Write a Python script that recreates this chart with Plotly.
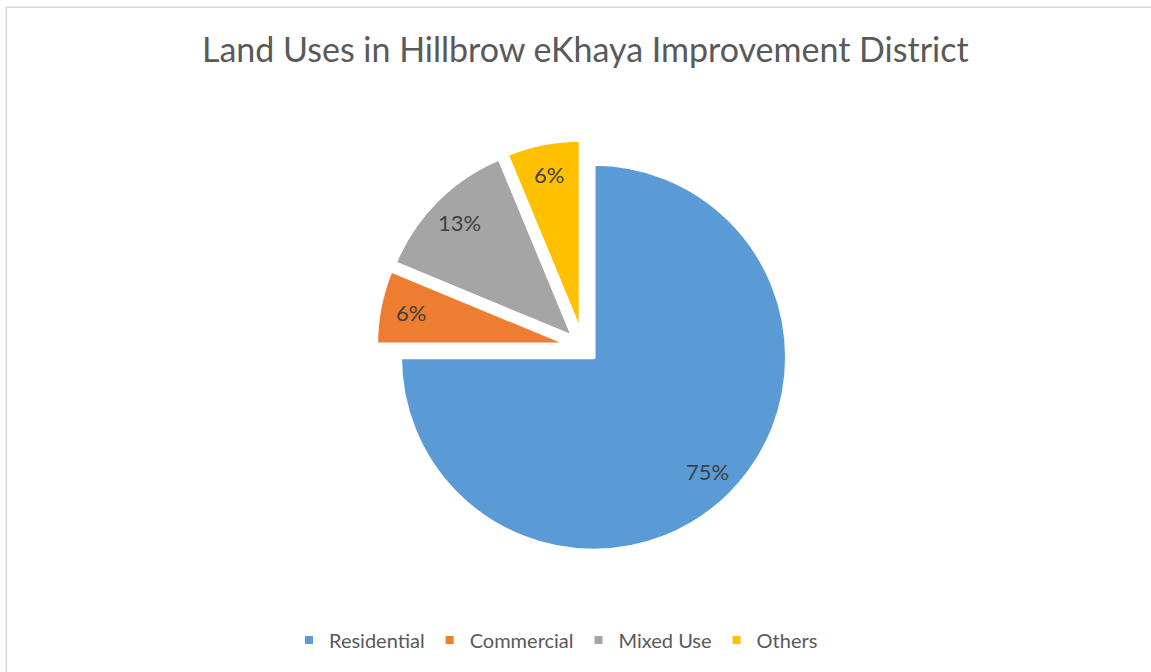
import math
import plotly.graph_objects as go

# Land-use shares (number of land parcels per category)
categories = ["Residential", "Commercial", "Mixed Use", "Others"]
parcels = [12, 1, 2, 1]
colors = ["#5B9BD5", "#ED7D31", "#A5A5A5", "#FFC000"]

W, H = 1151, 672

# Pie geometry in pixels (canvas has zero margins, so paper == pixels)
PIE_CX, PIE_CY = 583.5, 347.2   # centre of the un-exploded pie
PIE_R = 193.5                   # slice radius
EXPLODE_PX = 14.2               # every slice is pulled out by this much
LABEL_FRAC = 0.835              # data label distance along the slice bisector

pull = EXPLODE_PX / PIE_R
half = PIE_R + EXPLODE_PX       # plotly shrinks r by (1 + pull) inside the domain


def px_x(x):
    return x / W


def px_y(y):
    return 1 - y / H


total = sum(parcels)
pct = [int(v / total * 100 + 0.5) for v in parcels]

fig = go.Figure(
    go.Pie(
        labels=categories,
        values=parcels,
        sort=False,
        direction="clockwise",
        rotation=0,
        pull=[pull] * len(parcels),
        marker=dict(colors=colors, line=dict(color="#FFFFFF", width=4)),
        textinfo="none",
        hovertemplate="%{label}: %{value} (%{percent})<extra></extra>",
        domain=dict(
            x=[px_x(PIE_CX - half), px_x(PIE_CX + half)],
            y=[px_y(PIE_CY + half), px_y(PIE_CY - half)],
        ),
    )
)

# Percentage labels placed along each exploded slice's bisector
annotations = []
cum = 0
for v, p in zip(parcels, pct):
    mid = math.radians(360 * (cum + v / 2) / total)
    ux, uy = math.sin(mid), -math.cos(mid)
    sx = PIE_CX + EXPLODE_PX * ux
    sy = PIE_CY + EXPLODE_PX * uy
    lx = sx + LABEL_FRAC * PIE_R * ux
    ly = sy + LABEL_FRAC * PIE_R * uy
    annotations.append(
        dict(
            x=px_x(lx), y=px_y(ly), xref="paper", yref="paper",
            text=f"{p}%", showarrow=False,
            xanchor="center", yanchor="middle",
            font=dict(family="Lato", size=22, color="#404040"),
        )
    )
    cum += v

fig.update_layout(
    width=W,
    height=H,
    margin=dict(l=0, r=0, t=0, b=0),
    paper_bgcolor="#FFFFFF",
    plot_bgcolor="#FFFFFF",
    title=dict(
        text="Land Uses in Hillbrow eKhaya Improvement District",
        x=px_x(585.3), xanchor="center", xref="container",
        y=px_y(50), yanchor="middle", yref="container",
        font=dict(family="Lato", size=34, color="#595959"),
    ),
    showlegend=True,
    legend=dict(
        orientation="h",
        x=px_x(556), xanchor="center",
        y=px_y(640), yanchor="middle",
        font=dict(family="Lato", size=20, color="#595959"),
        bgcolor="rgba(0,0,0,0)",
    ),
    annotations=annotations,
    shapes=[
        dict(
            type="rect", xref="paper", yref="paper",
            x0=px_x(6.3), y0=-0.1, x1=1.1, y1=px_y(7.3),
            line=dict(color="#D9D9D9", width=1.5),
            fillcolor="rgba(0,0,0,0)", layer="below",
        )
    ],
)

fig.write_html("out.html")
